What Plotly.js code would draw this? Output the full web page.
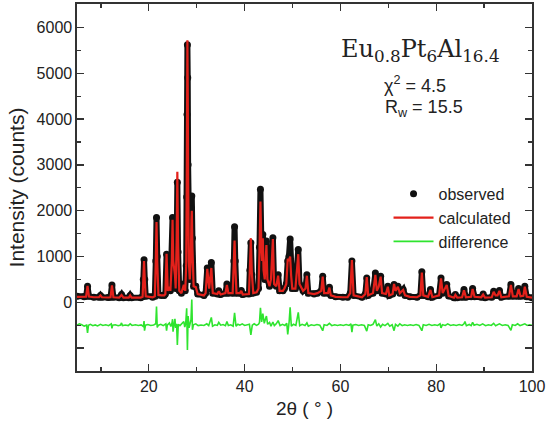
<!DOCTYPE html>
<html>
<head>
<meta charset="utf-8">
<script src="https://cdn.plot.ly/plotly-3.0.1.min.js"></script>
<style>html,body{margin:0;padding:0;background:#fff;}#chart{width:547px;height:432px;}</style>
</head>
<body>
<div id="chart"></div>
<script>
// 2-theta positions (degrees) of the sampled profile points
const tth = [5.0,6.5,6.9,7.2,7.5,8.5,9.6,9.9,10.2,11.5,12.0,12.3,12.6,13.8,14.3,14.7,15.8,16.1,16.4,18.3,
18.7,18.85,19.0,19.15,19.35,20.8,21.25,21.45,21.6,21.75,22.0,22.6,23.2,23.45,23.7,23.95,24.3,24.5,24.8,24.95,
25.1,25.45,25.6,25.8,25.95,26.1,26.35,26.8,27.3,27.6,27.8,27.9,27.97,28.05,28.12,28.2,28.35,28.55,28.75,28.9,
28.97,29.1,29.35,29.8,30.2,31.5,31.85,32.2,32.6,33.05,33.35,34.3,34.6,35.0,36.0,36.3,36.6,37.5,37.75,37.9,
38.05,38.3,39.0,39.3,39.6,40.9,41.1,41.3,41.5,41.8,42.5,42.9,43.1,43.3,43.5,43.65,43.8,43.95,44.2,44.55,
44.75,45.2,45.5,45.9,46.15,46.6,47.0,47.3,48.0,48.3,48.7,49.0,49.25,49.5,49.7,49.95,50.6,50.9,51.2,51.45,
52.2,52.7,53.0,53.3,54.5,55.2,56.0,56.3,56.6,57.4,57.7,58.0,59.0,60.5,61.5,62.05,62.4,62.75,64.5,65.2,
65.5,65.8,66.8,67.3,67.6,68.0,68.4,68.7,69.5,69.9,70.2,70.9,71.2,71.5,72.0,72.4,73.1,73.5,74.5,76.0,
76.7,77.0,77.3,78.3,78.8,79.2,80.6,81.0,81.35,82.2,82.6,83.7,84.0,84.4,85.4,85.8,86.2,87.3,87.6,88.0,
89.4,89.8,90.2,91.6,92.0,92.4,92.8,93.2,93.6,95.2,95.6,96.0,96.8,97.2,97.6,98.2,98.5,98.9,100.0];
// observed intensity (counts)
const observed = [130,120,130,350,130,110,110,150,110,105,110,380,110,100,170,100,100,150,100,100,
120,500,930,500,130,110,130,900,1850,1000,160,150,150,180,1050,250,350,250,900,1850,
900,600,300,1100,2620,1100,250,200,400,250,800,2300,4100,5620,4900,3000,900,500,1000,2050,
2320,1400,350,350,180,150,200,750,300,870,200,180,250,170,200,400,200,200,900,1650,
900,200,200,260,170,180,700,1300,600,200,220,300,1200,2470,1300,900,1480,700,500,1340,
500,350,500,1410,400,350,600,250,250,300,400,900,1000,1380,700,300,300,600,1150,400,
250,300,600,200,180,200,250,570,200,200,330,150,120,110,110,200,900,150,110,180,
530,150,200,640,250,350,570,200,180,350,150,180,390,250,350,200,280,150,120,110,
150,665,150,120,280,110,150,530,200,390,140,100,170,100,110,280,110,120,300,120,
110,180,100,110,240,150,150,260,110,130,390,130,130,300,130,140,350,120,100];
// calculated intensity (counts)
const calculated = [120,115,125,360,125,110,110,150,110,105,110,370,110,100,160,100,100,150,100,100,
120,520,900,480,130,110,130,900,1750,900,160,150,150,180,1060,250,340,250,900,1800,
900,600,300,1300,2850,1300,250,200,380,250,800,2400,4200,5720,4700,2700,900,500,900,1800,
2000,1200,350,330,180,150,200,730,300,750,200,180,240,170,200,380,200,200,800,1350,
800,200,200,250,170,180,750,1400,650,200,220,300,1100,2200,1200,900,1400,700,500,1250,
500,350,500,1380,400,350,580,250,250,300,400,950,900,1000,600,300,300,600,1050,400,
250,300,580,200,180,200,250,560,200,200,320,150,120,110,110,200,920,150,110,180,
550,150,200,600,250,340,560,200,180,340,150,180,400,250,340,200,270,150,120,110,
150,650,150,120,270,110,150,520,200,380,140,100,160,100,110,260,110,120,290,120,
110,170,100,110,230,150,150,250,110,130,380,130,130,290,130,140,340,120,100];
// difference curve points [2theta, observed - calculated with its -500 offset]
const differencePoints = [
[5.0,-500],[5.5,-470],[6.0,-490],[6.5,-520],[7.0,-500],[7.2,-670],[7.4,-500],[7.8,-480],[8.3,-510],[8.8,-495],
[9.3,-515],[9.9,-480],[10.4,-505],[11.0,-490],[11.6,-510],[12.15,-470],[12.3,-570],[12.45,-500],[13.0,-490],[13.6,-510],
[14.1,-495],[14.3,-450],[14.5,-510],[15.1,-495],[15.7,-510],[16.1,-470],[16.5,-505],[17.2,-490],[17.8,-505],[18.4,-495],
[18.85,-530],[19.0,-410],[19.1,-620],[19.3,-500],[19.8,-485],[20.4,-505],[21.0,-495],[21.45,-470],[21.6,-90],[21.75,-550],
[22.0,-500],[22.5,-480],[23.0,-510],[23.55,-470],[23.7,-620],[23.85,-500],[24.3,-450],[24.6,-530],[24.8,-470],[24.95,-370],
[25.05,-640],[25.25,-500],[25.45,-360],[25.6,-560],[25.8,-470],[25.95,-930],[26.15,-480],[26.5,-510],[26.9,-470],[27.3,-420],
[27.5,-540],[27.7,-460],[27.9,-130],[28.05,-1040],[28.2,-300],[28.4,-560],[28.6,-470],[28.8,-380],[28.97,60],[29.1,-600],
[29.3,-490],[29.8,-470],[30.3,-510],[30.9,-495],[31.5,-505],[32.1,-470],[32.5,-510],[33.05,-330],[33.3,-520],[33.8,-490],
[34.3,-505],[34.6,-440],[35.0,-500],[35.5,-485],[36.0,-510],[36.3,-420],[36.6,-505],[37.1,-490],[37.6,-520],[37.9,-230],
[38.2,-520],[38.6,-480],[39.0,-500],[39.5,-470],[40.0,-505],[40.5,-490],[41.0,-480],[41.3,-710],[41.6,-500],[42.0,-470],
[42.5,-505],[42.9,-480],[43.1,-440],[43.3,-120],[43.55,-430],[43.8,-250],[44.1,-460],[44.3,-380],[44.55,-300],[44.8,-480],
[45.2,-440],[45.5,-520],[45.9,-430],[46.2,-510],[46.6,-470],[47.0,-400],[47.4,-510],[47.9,-480],[48.4,-505],[48.8,-460],
[49.0,-700],[49.3,-420],[49.5,-110],[49.75,-520],[50.2,-480],[50.7,-505],[51.2,-220],[51.5,-510],[52.0,-480],[52.6,-505],
[53.0,-450],[53.3,-520],[53.9,-490],[54.5,-505],[55.1,-485],[55.7,-500],[56.3,-620],[56.6,-490],[57.2,-505],[57.7,-460],
[58.2,-510],[58.8,-490],[59.4,-505],[60.0,-490],[60.6,-505],[61.2,-485],[61.8,-505],[62.2,-470],[62.4,-650],[62.6,-500],
[63.2,-485],[63.8,-505],[64.4,-490],[65.0,-505],[65.5,-630],[65.8,-490],[66.3,-505],[66.8,-480],[67.3,-380],[67.6,-520],
[68.0,-470],[68.4,-540],[68.8,-480],[69.3,-510],[69.9,-460],[70.3,-520],[70.8,-490],[71.2,-620],[71.5,-480],[72.0,-520],
[72.4,-470],[72.9,-510],[73.4,-490],[74.0,-505],[74.6,-490],[75.2,-505],[75.8,-485],[76.4,-505],[77.0,-620],[77.3,-490],
[77.9,-505],[78.5,-480],[79.1,-505],[79.7,-490],[80.3,-505],[80.8,-470],[81.0,-560],[81.3,-490],[81.9,-505],[82.4,-470],
[83.0,-505],[83.6,-490],[84.2,-505],[84.8,-485],[85.4,-505],[85.8,-470],[86.0,-420],[86.3,-510],[86.9,-485],[87.3,-510],
[87.6,-440],[87.9,-500],[88.5,-480],[89.1,-505],[89.7,-470],[90.3,-510],[90.9,-490],[91.5,-505],[92.0,-460],[92.4,-510],
[93.2,-470],[93.8,-505],[94.4,-490],[95.0,-505],[95.6,-610],[95.9,-490],[96.5,-505],[97.0,-470],[97.5,-510],[98.0,-490],
[98.5,-470],[99.0,-505],[99.5,-490],[100.0,-500]];
const diffTth = differencePoints.map(p => p[0]);
const difference = differencePoints.map(p => p[1]);

const sans = 'Liberation Sans, Arial, sans-serif';
const tickFont = {family: sans, size: 16, color: '#222'};

const traces = [
  {x: tth, y: observed, type: 'scatter', mode: 'lines', line: {color: '#111', width: 6},
   showlegend: false, hoverinfo: 'skip'},
  {x: tth, y: observed, type: 'scatter', mode: 'markers', name: 'observed',
   marker: {color: '#111', size: 7}},
  {x: tth, y: calculated, type: 'scatter', mode: 'lines', name: 'calculated',
   line: {color: '#e3211b', width: 2.2}},
  {x: diffTth, y: difference, type: 'scatter', mode: 'lines', name: 'difference',
   line: {color: '#2fe42f', width: 1.6}}
];

const layout = {
  width: 547, height: 432,
  margin: {l: 77, r: 15, t: 4, b: 61},
  paper_bgcolor: '#fff', plot_bgcolor: '#fff',
  font: tickFont,
  showlegend: true,
  legend: {x: 0.966, xanchor: 'right', y: 0.529, yanchor: 'top', bgcolor: 'rgba(0,0,0,0)',
    font: {family: sans, size: 16, color: '#222'},
    itemwidth: 40, tracegroupgap: 0},
  xaxis: {range: [5, 100], tickmode: 'array', tickvals: [20, 40, 60, 80, 100],
    ticks: 'inside', ticklen: 7, tickwidth: 1.3, tickcolor: '#333',
    minor: {tickvals: [10, 30, 50, 70, 90], ticks: 'inside', ticklen: 4, tickcolor: '#333'},
    showline: true, linecolor: '#333', linewidth: 1.6, mirror: 'ticks',
    showgrid: false, zeroline: false, tickfont: tickFont,
    title: {text: '2θ ( ° )', font: {family: sans, size: 19, color: '#222'}, standoff: 8}},
  yaxis: {range: [-1500, 6512], tickmode: 'array',
    tickvals: [-1000, 0, 1000, 2000, 3000, 4000, 5000, 6000],
    ticktext: ['', '0', '1000', '2000', '3000', '4000', '5000', '6000'],
    ticks: 'inside', ticklen: 7, tickwidth: 1.3, tickcolor: '#333',
    minor: {tickvals: [-500, 500, 1500, 2500, 3500, 4500, 5500, 6500], ticks: 'inside', ticklen: 4, tickcolor: '#333'},
    showline: true, linecolor: '#333', linewidth: 1.6, mirror: 'ticks',
    showgrid: false, zeroline: false, tickfont: tickFont,
    title: {text: 'Intensity (counts)', font: {family: sans, size: 21, color: '#222'}, standoff: 6}},
  annotations: [
    {xref: 'paper', yref: 'paper', x: 0.754, y: 0.872, xanchor: 'center', yanchor: 'middle', showarrow: false,
     text: 'Eu<sub>0.8</sub>Pt<sub>6</sub>Al<sub>16.4</sub>',
     font: {family: 'DejaVu Serif, Liberation Serif, serif', size: 24, color: '#222'}},
    {xref: 'paper', yref: 'paper', x: 0.742, y: 0.782, xanchor: 'center', yanchor: 'middle', showarrow: false,
     text: 'χ<sup>2</sup> = 4.5',
     font: {family: sans, size: 18, color: '#222'}},
    {xref: 'paper', yref: 'paper', x: 0.762, y: 0.714, xanchor: 'center', yanchor: 'middle', showarrow: false,
     text: 'R<sub>w</sub> = 15.5',
     font: {family: sans, size: 18, color: '#222'}}
  ]
};

Plotly.newPlot('chart', traces, layout, {displayModeBar: false, staticPlot: true});
</script>
</body>
</html>
